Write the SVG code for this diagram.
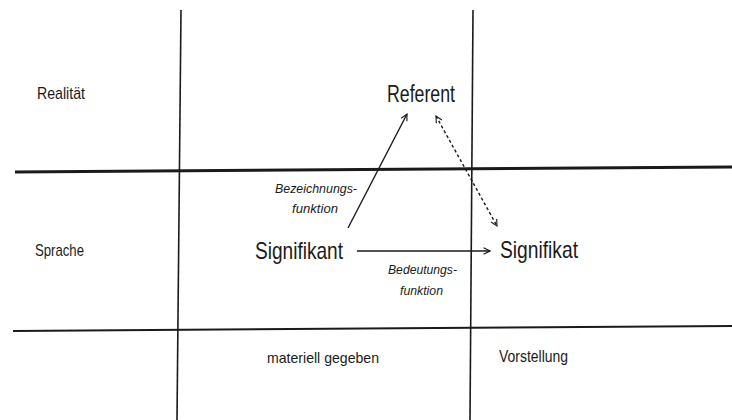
<svg xmlns="http://www.w3.org/2000/svg" width="732" height="420" viewBox="0 0 732 420">
<style>
  .t { font-family: "Liberation Sans Narrow", "Liberation Sans", "DejaVu Sans", sans-serif; fill: #1a1a1a; }
  .it { font-family: "Liberation Sans Narrow", "Liberation Sans", "DejaVu Sans", sans-serif; font-style: italic; fill: #1a1a1a; font-size: 13px; }
  .grid { stroke: #1a1a1a; fill: none; }
  .arr { stroke: #1a1a1a; stroke-width: 1.4; fill: none; }
</style>
<defs>
  <marker id="head" viewBox="0 0 10 10" refX="9" refY="5" markerWidth="8" markerHeight="8" markerUnits="userSpaceOnUse" orient="auto-start-reverse">
    <path d="M1,1 L9,5 L1,9" fill="none" stroke="#1a1a1a" stroke-width="1.4"/>
  </marker>
</defs>
<rect width="732" height="420" fill="#ffffff"/>
<g id="grid">
  <line class="grid" x1="15" y1="172" x2="732" y2="167" stroke-width="3"/>
  <line class="grid" x1="13" y1="331" x2="732" y2="326" stroke-width="2"/>
  <line class="grid" x1="181" y1="10" x2="177" y2="420" stroke-width="1.6"/>
  <line class="grid" x1="473" y1="10" x2="470" y2="420" stroke-width="1.6"/>
</g>
<g id="row-labels">
  <text class="t" x="37" y="99" font-size="17" textLength="48" lengthAdjust="spacingAndGlyphs">Realität</text>
  <text class="t" x="35" y="256" font-size="17" textLength="49" lengthAdjust="spacingAndGlyphs">Sprache</text>
</g>
<g id="col-labels">
  <text class="t" x="267" y="363" font-size="15" textLength="112" lengthAdjust="spacingAndGlyphs">materiell gegeben</text>
  <text class="t" x="499" y="362" font-size="16" textLength="69" lengthAdjust="spacingAndGlyphs">Vorstellung</text>
</g>
<g id="referent">
  <text class="t" x="387" y="102" font-size="23" textLength="68" lengthAdjust="spacingAndGlyphs">Referent</text>
</g>
<g id="signifikant">
  <text class="t" x="255" y="259" font-size="24" textLength="88" lengthAdjust="spacingAndGlyphs">Signifikant</text>
</g>
<g id="signifikat">
  <text class="t" x="500" y="258" font-size="24" textLength="78" lengthAdjust="spacingAndGlyphs">Signifikat</text>
</g>
<g id="connectors">
  <line class="arr" x1="348" y1="228" x2="407" y2="114" marker-end="url(#head)"/>
  <line class="arr" x1="436" y1="116" x2="497" y2="226" stroke-dasharray="3,2.5" marker-start="url(#head)" marker-end="url(#head)"/>
  <line class="arr" x1="357" y1="251" x2="490" y2="251" marker-end="url(#head)"/>
</g>
<g id="connector-labels">
  <text class="it" x="275" y="193" textLength="82" lengthAdjust="spacingAndGlyphs">Bezeichnungs-</text>
  <text class="it" x="292" y="213" textLength="46" lengthAdjust="spacingAndGlyphs">funktion</text>
  <text class="it" x="388" y="274" textLength="69" lengthAdjust="spacingAndGlyphs">Bedeutungs-</text>
  <text class="it" x="400" y="295" textLength="43" lengthAdjust="spacingAndGlyphs">funktion</text>
</g>
</svg>
